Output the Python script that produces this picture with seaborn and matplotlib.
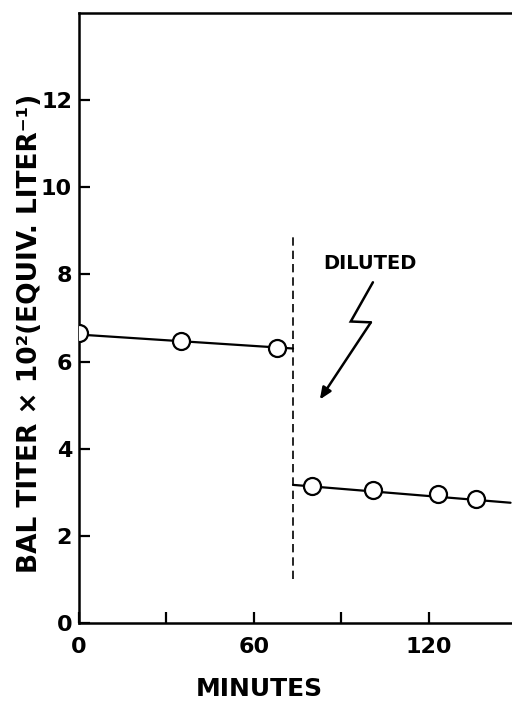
import matplotlib
matplotlib.use("Agg")
import matplotlib.pyplot as plt
import seaborn as sns
import pandas as pd

# Titer before and after dilution (minutes, BAL titer x 10^2)
before_min = [0, 35, 68]
before_titer = [6.65, 6.48, 6.31]
after_min = [80, 101, 123, 136]
after_titer = [3.15, 3.06, 2.97, 2.85]

# Fitted lines through each phase
fit_before_min = [0, 73.4]
fit_before_titer = [6.62, 6.30]
fit_after_min = [73.4, 148]
fit_after_titer = [3.17, 2.76]

dilution_min = 73.4
dilution_span = [1.0, 8.85]

x_ticks = [0, 30, 60, 90, 120]
x_ticklabels = ["0", "", "60", "", "120"]
y_ticks = [0, 2, 4, 6, 8, 10, 12]
y_ticklabels = ["0", "2", "4", "6", "8", "10", "12"]

sns.set_style("ticks")
plt.rcParams["font.family"] = ["DejaVu Sans"]
plt.rcParams.update({
    "text.color": "black",
    "axes.labelcolor": "black",
    "axes.edgecolor": "black",
    "xtick.color": "black",
    "ytick.color": "black",
})

fig = plt.figure(figsize=(5.12, 7.04), dpi=100)
ax = fig.add_axes([79 / 512, 1 - 623 / 704, 1 - 79 / 512, (623 - 13) / 704])

line_kw = dict(color="black", linewidth=1.6, estimator=None, sort=False)
sns.lineplot(x=fit_before_min, y=fit_before_titer, ax=ax, **line_kw)
sns.lineplot(x=fit_after_min, y=fit_after_titer, ax=ax, **line_kw)

pts = pd.DataFrame({
    "minutes": before_min + after_min,
    "titer": before_titer + after_titer,
})
sns.scatterplot(data=pts, x="minutes", y="titer", ax=ax, s=150,
                facecolor="white", edgecolor="black", linewidth=1.6,
                zorder=5)

ax.vlines(dilution_min, dilution_span[0], dilution_span[1], colors="black",
          linestyles=(0, (5, 3)), linewidth=1.2)

ax.text(99.8, 8.24, "DILUTED", ha="center", va="center", fontsize=14,
        fontweight="bold")
# lightning-shaped pointer from the label down to the diluted phase
zig_x = [100.8, 93.2, 100.1]
zig_y = [7.82, 6.92, 6.90]
ax.plot(zig_x, zig_y, color="black", linewidth=1.8, solid_joinstyle="miter")
ax.annotate("", xy=(82.6, 5.13), xytext=(100.1, 6.90),
            arrowprops=dict(arrowstyle="-|>,head_length=0.7,head_width=0.3",
                            color="black", linewidth=1.8, shrinkA=0,
                            shrinkB=0))

ax.set_xlim(0, 148.5)
ax.set_ylim(0, 14.0)
ax.set_xticks(x_ticks)
ax.set_xticklabels(x_ticklabels)
ax.set_yticks(y_ticks)
ax.set_yticklabels(y_ticklabels)
ax.tick_params(direction="in", length=8, width=1.6, labelsize=16)
ax.tick_params(axis="x", pad=10)
ax.tick_params(axis="y", pad=5)
for lab in ax.get_xticklabels() + ax.get_yticklabels():
    lab.set_fontweight("bold")

for side in ["left", "bottom", "top"]:
    ax.spines[side].set_linewidth(1.8)
ax.spines["right"].set_visible(False)

ax.set_xlabel("MINUTES", fontsize=18, fontweight="bold")
ax.xaxis.set_label_coords(0.416, -0.088)
ax.set_ylabel("BAL TITER × 10²(EQUIV. LITER⁻¹)", fontsize=19,
              fontweight="bold")
ax.yaxis.set_label_coords(-0.083, 0.475)

fig.savefig("out.png", dpi=100)
